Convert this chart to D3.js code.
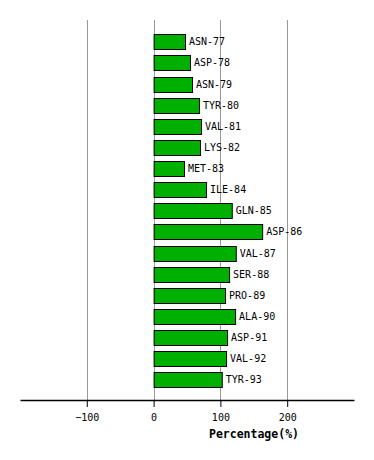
<!DOCTYPE html>
<html><head><meta charset="utf-8">
<script src="https://cdn.jsdelivr.net/npm/d3@7"></script>
<style>body{margin:0;background:#fff}svg{display:block}</style>
</head><body>
<script>
const categories = ["ASN-77","ASP-78","ASN-79","TYR-80","VAL-81","LYS-82","MET-83","ILE-84","GLN-85","ASP-86","VAL-87","SER-88","PRO-89","ALA-90","ASP-91","VAL-92","TYR-93"];
const values = [47, 54.5, 57.5, 68, 71, 69.5, 45.5, 78.5, 117, 162.5, 123, 113, 107, 122, 110, 108.5, 102];
const tickValues = [-100, 0, 100, 200];
const axisTitle = "Percentage(%)";

(function () {
const W = 374, H = 460;
const svg = d3.select("body").append("svg").attr("width", W).attr("height", H);
const font = "'DejaVu Sans Mono', monospace";

const x = d3.scaleLinear().domain([-200, 300]).range([20, 354]);
const y = d3.scaleBand().domain(categories).range([31.24, 390.36]).paddingInner(0.29).paddingOuter(0.145);
const plotTop = 20, axisY = 400;

// gridlines
svg.append("g").selectAll("line").data(tickValues).join("line")
  .attr("x1", d => Math.round(x(d)) + 0.5).attr("x2", d => Math.round(x(d)) + 0.5)
  .attr("y1", plotTop).attr("y2", axisY)
  .attr("stroke", "#999").attr("stroke-width", 1);

// bars
const data = categories.map((c, i) => ({c, v: values[i]}));
svg.append("g").selectAll("rect").data(data).join("rect")
  .attr("x", x(0) + 0.5)
  .attr("y", d => Math.round(y(d.c)) + 0.5)
  .attr("width", d => x(d.v) - x(0))
  .attr("height", y.bandwidth())
  .attr("fill", "#00b000").attr("stroke", "#000").attr("stroke-width", 1);

// labels
svg.append("g").selectAll("text").data(data).join("text")
  .attr("x", d => x(d.v) + 4)
  .attr("y", d => y(d.c) + y.bandwidth() / 2)
  .attr("dy", "0.35em")
  .attr("font-family", font).attr("font-size", 10).attr("fill", "#000")
  .text(d => d.c);

// axis
const axis = d3.axisBottom(x).tickValues(tickValues).tickSize(7).tickSizeOuter(0).tickFormat(d3.format("d"));
const g = svg.append("g").attr("transform", `translate(0,${axisY})`).call(axis);
g.select(".domain").attr("stroke", "#000").attr("stroke-width", 1.5);
g.selectAll(".tick line").attr("stroke", "#000");
g.selectAll(".tick text").attr("font-family", font).attr("font-size", 10).attr("fill", "#000").attr("dy", "0.75em").attr("y", 13);
g.selectAll(".tick text").text(d => d < 0 ? "\u2212" + Math.abs(d) : d);

svg.append("text").attr("x", 254).attr("y", 434).attr("dy", "0.35em")
  .attr("text-anchor", "middle").attr("font-family", font).attr("font-weight", "bold").attr("font-size", 11.5)
  .text(axisTitle);
})();
</script>
</body></html>
